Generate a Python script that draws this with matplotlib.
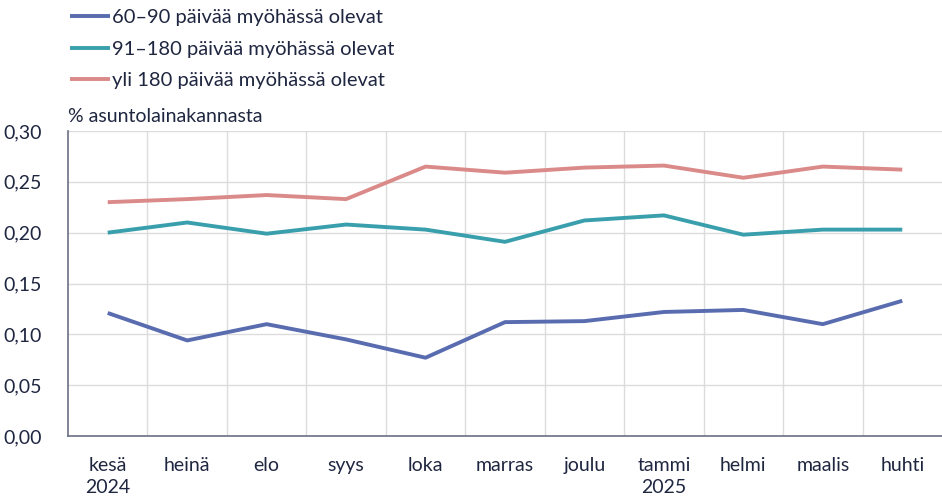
import numpy as np
import matplotlib
matplotlib.use("Agg")
import matplotlib.pyplot as plt

# months, June 2024 - April 2025
months = ["kesä\n2024", "heinä", "elo", "syys", "loka", "marras",
          "joulu", "tammi\n2025", "helmi", "maalis", "huhti"]

# % of housing loan stock
late_60_90 = [0.121, 0.094, 0.110, 0.095, 0.077, 0.112,
              0.113, 0.122, 0.124, 0.110, 0.133]
late_91_180 = [0.200, 0.210, 0.199, 0.208, 0.203, 0.191,
               0.212, 0.217, 0.198, 0.203, 0.203]
late_over_180 = [0.230, 0.233, 0.237, 0.233, 0.265, 0.259,
                 0.264, 0.266, 0.254, 0.265, 0.262]

labels = ["60–90 päivää myöhässä olevat",
          "91–180 päivää myöhässä olevat",
          "yli 180 päivää myöhässä olevat"]
colors = ["#5a6cb0", "#3a9fac", "#da8a89"]

text_col = "#1f2640"
plt.rcParams["font.family"] = ["Lato", "DejaVu Sans"]

fig = plt.figure(figsize=(9.42, 5.0), dpi=100)
ax = fig.add_axes([68 / 942, 64 / 500, 874 / 942, 305 / 500])

x = np.arange(len(months))
for vals, lab, col in zip([late_60_90, late_91_180, late_over_180], labels, colors):
    ax.plot(x, vals, color=col, lw=2.8, label=lab, solid_capstyle="butt")

ax.set_xlim(-0.5, len(months) - 0.5)
ax.set_ylim(0, 0.30)
ax.set_yticks(np.arange(0, 0.31, 0.05))
ax.set_yticklabels([f"{v:.2f}".replace(".", ",") for v in np.arange(0, 0.31, 0.05)])
ax.set_xticks(x)
ax.set_xticklabels(months, linespacing=1.4)
ax.set_xticks(x[:-1] + 0.5, minor=True)

ax.grid(axis="y", color="#dcdcdc", lw=1)
ax.grid(axis="x", which="minor", color="#dcdcdc", lw=1)
ax.set_axisbelow(True)
ax.tick_params(which="both", length=0)
ax.tick_params(axis="y", pad=19, labelsize=14, labelcolor=text_col)
ax.tick_params(axis="x", pad=15, labelsize=14, labelcolor=text_col)
for s in ["top", "right"]:
    ax.spines[s].set_visible(False)
for s in ["left", "bottom"]:
    ax.spines[s].set_color("#6b6f85")
    ax.spines[s].set_linewidth(1.2)

fig.text(68 / 942, 1 - 116 / 500, "% asuntolainakannasta", fontsize=14,
         color=text_col, va="center", ha="left")

leg = fig.legend(loc="upper left", bbox_to_anchor=(58 / 942, 1.006), frameon=False,
                 fontsize=14.5, handlelength=2.0, handletextpad=0.1,
                 labelspacing=0.72, borderaxespad=0.2)
for t in leg.get_texts():
    t.set_color(text_col)

fig.savefig("out.png", dpi=100)
